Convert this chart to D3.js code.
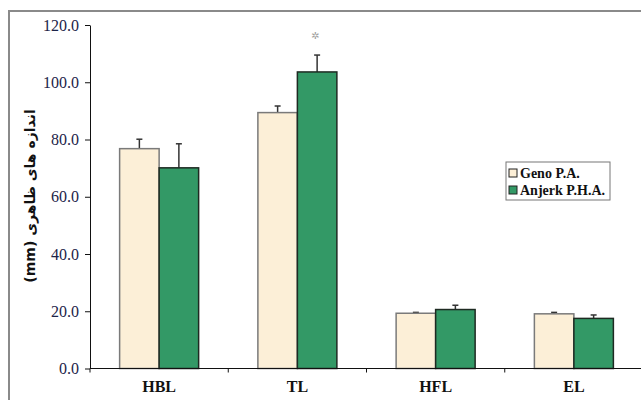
<!DOCTYPE html>
<html>
<head>
<meta charset="utf-8">
<script src="https://cdn.jsdelivr.net/npm/d3@7"></script>
<style>
  body { margin: 0; background: #fff; }
  svg { display: block; }
</style>
</head>
<body>
<div class="chart"></div>
<script>
var categories = ["HBL", "TL", "HFL", "EL"];
var seriesNames = ["Geno P.A.", "Anjerk P.H.A."];
var genoValues = [76.8, 89.4, 19.3, 19.1];
var genoErrors = [3.3, 2.3, 0.3, 0.5];
var anjerkValues = [70.1, 103.6, 20.6, 17.5];
var anjerkErrors = [8.4, 5.9, 1.5, 1.2];
var yTicks = [0, 20, 40, 60, 80, 100, 120];
var significant = ["TL"]; // marked with a star above the Anjerk bar

var width = 641, height = 400;
var fills = ["#fcefd7", "#339966"];
var strokes = ["#7a7a7a", "#1e2a22"];
var serif = "'Liberation Serif', 'DejaVu Serif', serif";

var svg = d3.select(".chart")
  .append("svg")
  .attr("width", width)
  .attr("height", height);

// outer frame
svg.append("rect")
  .attr("x", 9).attr("y", 11)
  .attr("width", width + 20).attr("height", height + 20)
  .style("fill", "none")
  .style("stroke", "#8a8a8a")
  .style("stroke-width", 2);

var y = d3.scaleLinear()
  .domain([0, 120])
  .range([368.5, 25]);

var x = d3.scaleBand()
  .domain(categories)
  .range([90, 643])
  .padding(0);

var x1 = d3.scaleBand()
  .domain(seriesNames)
  .range([0, x.bandwidth()])
  .paddingInner(0)
  .paddingOuter(0.75);

// y axis
var yAxis = svg.append("g")
  .attr("transform", "translate(90,0)")
  .call(d3.axisLeft(y).tickValues(yTicks).tickFormat(d3.format(".1f")).tickSize(5).tickSizeOuter(0));
yAxis.attr("font-family", null).attr("font-size", null);
yAxis.select(".domain").style("stroke", "#111");
yAxis.selectAll(".tick line").style("stroke", "#111");
yAxis.selectAll(".tick text")
  .attr("x", -11)
  .style("font-family", serif)
  .style("font-size", "16px")
  .style("fill", "#1c2448");

// y title
svg.append("text")
  .attr("transform", "translate(35,196) rotate(-90)")
  .style("text-anchor", "middle")
  .style("font-family", "'DejaVu Sans', sans-serif")
  .style("font-weight", "bold")
  .style("font-size", "14px")
  .style("fill", "#111")
  .text("(mm) اندازه های ظاهری");

// bars
var rows = categories.map(function(c, i) {
  return {
    cat: c,
    bars: [
      { name: seriesNames[0], value: genoValues[i], err: genoErrors[i], k: 0 },
      { name: seriesNames[1], value: anjerkValues[i], err: anjerkErrors[i], k: 1 }
    ]
  };
});

var groups = svg.append("g")
  .selectAll("g")
  .data(rows)
  .enter().append("g")
  .attr("transform", d => "translate(" + x(d.cat) + ",0)");

// error bars (upper only)
groups.selectAll(".err")
  .data(d => d.bars)
  .enter().append("line")
  .attr("class", "err")
  .attr("x1", d => x1(d.name) + x1.bandwidth() / 2)
  .attr("x2", d => x1(d.name) + x1.bandwidth() / 2)
  .attr("y1", d => y(d.value))
  .attr("y2", d => y(d.value + d.err))
  .style("stroke", "#333")
  .style("stroke-width", 1.5);

groups.selectAll(".cap")
  .data(d => d.bars)
  .enter().append("line")
  .attr("class", "cap")
  .attr("x1", d => x1(d.name) + x1.bandwidth() / 2 - 3)
  .attr("x2", d => x1(d.name) + x1.bandwidth() / 2 + 3)
  .attr("y1", d => y(d.value + d.err))
  .attr("y2", d => y(d.value + d.err))
  .style("stroke", "#333")
  .style("stroke-width", 1.5);

groups.selectAll(".bar")
  .data(d => d.bars)
  .enter().append("rect")
  .attr("class", "bar")
  .attr("x", d => x1(d.name))
  .attr("y", d => y(d.value))
  .attr("width", x1.bandwidth())
  .attr("height", d => y(0) - y(d.value))
  .style("fill", d => fills[d.k])
  .style("stroke", d => strokes[d.k])
  .style("stroke-width", 1.5);

// significance star
groups.filter(d => significant.indexOf(d.cat) >= 0)
  .append("text")
  .attr("x", d => x1(seriesNames[1]) + x1.bandwidth() / 2 - 2)
  .attr("y", d => y(d.bars[1].value + d.bars[1].err) - 16)
  .style("text-anchor", "middle")
  .style("font-family", "'DejaVu Sans', sans-serif")
  .style("font-size", "10px")
  .style("fill", "#a0a0a0")
  .text("✲");

// x axis
var xAxis = svg.append("g");
xAxis.append("line")
  .attr("x1", 90).attr("x2", width)
  .attr("y1", y(0)).attr("y2", y(0))
  .style("stroke", "#111")
  .style("stroke-width", 1.2);
xAxis.selectAll(".xtick")
  .data(categories.map(c => x(c)).concat([x.range()[1]]))
  .enter().append("line")
  .attr("x1", d => d).attr("x2", d => d)
  .attr("y1", y(0)).attr("y2", y(0) + 4)
  .style("stroke", "#111");
xAxis.selectAll(".xlabel")
  .data(categories)
  .enter().append("text")
  .attr("x", d => x(d) + x.bandwidth() / 2)
  .attr("y", 392)
  .style("text-anchor", "middle")
  .style("font-family", serif)
  .style("font-weight", "bold")
  .style("font-size", "16px")
  .style("fill", "#111")
  .text(d => d);

// legend
var legend = svg.append("g").attr("transform", "translate(506,162)");
legend.append("rect")
  .attr("width", 104).attr("height", 38)
  .style("fill", "#fff")
  .style("stroke", "#777")
  .style("stroke-width", 1);
var items = legend.selectAll(".item")
  .data(seriesNames)
  .enter().append("g")
  .attr("transform", (d, i) => "translate(3," + (7 + i * 17) + ")");
items.append("rect")
  .attr("width", 8).attr("height", 8)
  .style("fill", (d, i) => fills[i])
  .style("stroke", "#222")
  .style("stroke-width", 1);
items.append("text")
  .attr("x", 11).attr("y", 8.5)
  .style("font-family", serif)
  .style("font-weight", "bold")
  .style("font-size", "14px")
  .style("fill", "#111")
  .text(d => d);
</script>
</body>
</html>
